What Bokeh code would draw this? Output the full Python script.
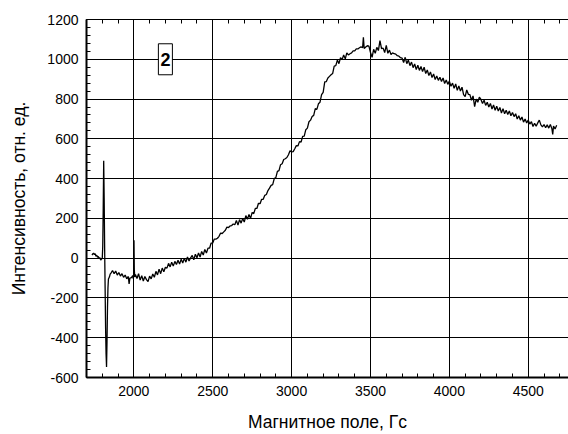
from bokeh.plotting import figure
from bokeh.models import (Range1d, SingleIntervalTicker, LinearAxis, Label,
                          PrintfTickFormatter)
from bokeh.embed import file_html
from bokeh.resources import INLINE

# ---- data (field in Gs, intensity in a.u.) ----
# baseline before the first resonance
seg_a_x = [1735, 1740, 1745, 1750, 1755, 1760, 1765, 1770, 1775, 1780, 1785, 1790, 1795, 1800]
seg_a_y = [15, 22, 25, 18, 22, 10, 15, 5, 8, -2, 2, -10, -5, 0]
# narrow derivative-shaped line near 1810 Gs
seg_b_x = [1803, 1806, 1809, 1812, 1815, 1818, 1821, 1824, 1827, 1830, 1833, 1836, 1839, 1845, 1850]
seg_b_y = [60, 250, 490, 300, 50, -150, -350, -480, -547, -420, -250, -150, -105, -95, -80]
# plateau up to the spike at 2000 Gs
seg_c_x = [1855, 1865, 1875, 1885, 1895, 1905, 1915, 1925, 1935, 1945, 1955, 1965, 1970, 1975,
           1985, 1993, 1997, 1999, 2001, 2003, 2006]
seg_c_y = [-75, -62, -78, -65, -85, -72, -90, -78, -96, -85, -104, -92, -130, -100,
           -98, -88, -104, -80, 90, -60, -95]
seg_d_x = [2010, 2020, 2030, 2040, 2050, 2060, 2070, 2080, 2090, 2100,
           2110, 2120, 2130, 2140, 2150, 2160, 2170, 2180, 2190, 2200]
seg_d_y = [-82, -102, -78, -110, -88, -115, -92, -108, -118, -90,
           -104, -80, -96, -66, -84, -55, -78, -50, -68, -46]
# slow rise
seg_e_x = [2210, 2220, 2230, 2240, 2250, 2260, 2270, 2280, 2290, 2300,
           2310, 2320, 2330, 2340, 2350, 2360, 2370, 2380, 2390, 2400,
           2410, 2420, 2430, 2440, 2450, 2460, 2470, 2480, 2490, 2500,
           2510, 2520, 2530, 2540, 2550, 2560, 2570, 2580, 2590, 2600,
           2610, 2620, 2630, 2640, 2650, 2660, 2670, 2680, 2690, 2700,
           2710, 2720, 2730, 2740, 2750, 2760, 2770, 2780, 2790, 2800,
           2810, 2820, 2830, 2840, 2850]
seg_e_y = [-50, -26, -44, -20, -40, -16, -32, -10, -30, -5,
           -24, 0, -20, 6, -14, 2, 14, -8, 20, 2,
           26, 6, 34, 16, 44, 26, 50, 50, 76, 76,
           96, 96, 100, 110, 126, 124, 132, 140, 156, 154,
           162, 164, 172, 168, 190, 166, 194, 176, 200, 182,
           214, 196, 220, 200, 230, 224, 250, 250, 276, 274,
           296, 296, 316, 320, 340]
# steep rise to the maximum
seg_f_x = [2860, 2870, 2880, 2890, 2900, 2910, 2920, 2930, 2940, 2950,
           2960, 2970, 2980, 2990, 3000, 3010, 3020, 3030, 3040, 3050,
           3060, 3070, 3080, 3090, 3100, 3110, 3120, 3130, 3140, 3150,
           3160, 3170, 3180, 3190, 3200, 3210, 3220, 3230, 3240, 3250,
           3260, 3270, 3280, 3290, 3300, 3310, 3320, 3330, 3340, 3350,
           3360, 3370, 3380, 3390, 3400, 3410, 3420, 3430, 3440, 3450,
           3455, 3460, 3470, 3480]
seg_f_y = [352, 366, 370, 400, 405, 436, 440, 470, 475, 496,
           500, 506, 520, 540, 534, 536, 550, 566, 564, 586,
           584, 612, 614, 646, 654, 686, 694, 712, 718, 752,
           748, 776, 784, 822, 834, 886, 888, 906, 914, 922,
           928, 966, 968, 996, 978, 1008, 998, 1022, 1002, 1032,
           1022, 1028, 1032, 1042, 1042, 1052, 1052, 1058, 1062, 1058,
           1110, 1054, 1062, 1068]
# decay after the maximum
seg_g_x = [3490, 3500, 3510, 3520, 3530, 3540, 3550, 3560, 3570, 3580,
           3590, 3600, 3610, 3620, 3630, 3640, 3650, 3660, 3670, 3680,
           3690, 3700, 3710, 3720, 3730, 3740, 3750, 3760, 3770, 3780,
           3790, 3800, 3810, 3820, 3830, 3840, 3850, 3860, 3870, 3880,
           3890, 3900, 3910, 3920, 3930, 3940, 3950, 3960, 3970, 3980,
           3990, 4000, 4010, 4020, 4030, 4040, 4050, 4060, 4070, 4080,
           4090, 4100, 4110, 4120]
seg_g_y = [1066, 1034, 1010, 1050, 1030, 1060, 1044, 1094, 1054, 1056,
           1034, 1070, 1030, 1046, 1024, 1032, 1028, 1026, 1018, 1016,
           1008, 1006, 984, 1010, 978, 996, 968, 986, 958, 976,
           948, 970, 944, 964, 938, 960, 928, 946, 918, 936,
           908, 926, 898, 916, 894, 910, 888, 906, 878, 896,
           874, 890, 864, 880, 854, 876, 844, 866, 840, 860,
           822, 812, 846, 824]
seg_h_x = [4130, 4140, 4150, 4160, 4170, 4180, 4190, 4200, 4210, 4220,
           4230, 4240, 4250, 4260, 4270, 4280, 4290, 4300, 4310, 4320,
           4330, 4340, 4350, 4360, 4370, 4380, 4390, 4400, 4410, 4420,
           4430, 4440, 4450, 4460, 4470, 4480, 4490, 4500, 4510, 4520,
           4530, 4540, 4550, 4560, 4570, 4580, 4590, 4600, 4610, 4620,
           4630, 4640, 4650, 4655, 4660, 4670, 4680]
seg_h_y = [822, 794, 816, 762, 800, 784, 810, 798, 778, 794,
           768, 784, 760, 778, 750, 770, 744, 764, 740, 758,
           730, 752, 726, 744, 722, 740, 716, 732, 712, 726,
           700, 716, 694, 710, 684, 700, 680, 694, 674, 686,
           662, 678, 664, 680, 694, 670, 660, 672, 656, 670,
           654, 672, 650, 622, 664, 650, 668]

field_gs = seg_a_x + seg_b_x + seg_c_x + seg_d_x + seg_e_x + seg_f_x + seg_g_x + seg_h_x
intensity = seg_a_y + seg_b_y + seg_c_y + seg_d_y + seg_e_y + seg_f_y + seg_g_y + seg_h_y

x_start, x_end = 1700, 4755
y_start, y_end = -600, 1200
x_major_step = 500
y_major_step = 200
panel_label = "2"
panel_label_x, panel_label_y = 2200, 1000
x_title = "Магнитное поле, Гс"
y_title = "Интенсивность, отн. ед."

FONT = "Liberation Sans"

p = figure(width=568, height=434, output_backend="svg", toolbar_location=None,
           x_range=Range1d(x_start, x_end), y_range=Range1d(y_start, y_end),
           min_border_left=86, min_border_right=0, min_border_top=19,
           min_border_bottom=55)
p.outline_line_color = None
p.background_fill_color = "white"
p.border_fill_color = "white"

xt = SingleIntervalTicker(interval=x_major_step, num_minor_ticks=5)
yt = SingleIntervalTicker(interval=y_major_step, num_minor_ticks=5)
p.xaxis.ticker = xt
p.yaxis.ticker = yt

p.xgrid.ticker = xt
p.ygrid.ticker = yt
for g in (p.xgrid, p.ygrid):
    g.grid_line_color = "black"
    g.grid_line_width = 1
    g.grid_line_alpha = 1.0

xa = p.xaxis[0]
ya = p.yaxis[0]
for ax in (xa, ya):
    ax.formatter = PrintfTickFormatter(format="%d")
    ax.axis_line_color = "black"
    ax.axis_line_width = 2
    ax.major_tick_line_color = "black"
    ax.minor_tick_line_color = "black"
    ax.major_tick_in = 6
    ax.major_tick_out = 0
    ax.minor_tick_in = 4
    ax.minor_tick_out = 0
    ax.major_label_text_font = FONT
    ax.major_label_text_font_size = "14px"
    ax.major_label_text_color = "black"
    ax.axis_label_text_font = FONT
    ax.axis_label_text_font_size = "17.5px"
    ax.axis_label_text_font_style = "normal"
    ax.axis_label_text_color = "black"
    ax.major_label_standoff = 8

xa.axis_label = x_title
xa.axis_label_standoff = 13
ya.axis_label = y_title
ya.axis_label_standoff = 15

top = LinearAxis(ticker=xt, major_label_text_font_size="1px",
                 major_label_text_color=None,
                 major_label_standoff=0, axis_line_color="black", axis_line_width=1,
                 major_tick_in=6, major_tick_out=0, minor_tick_in=4, minor_tick_out=0)
p.add_layout(top, "above")

p.line(field_gs, intensity, line_color="black", line_width=1.3)

lbl = Label(x=panel_label_x, y=panel_label_y, text=panel_label,
            text_font=FONT, text_font_size="18px", text_font_style="bold",
            text_align="center", text_baseline="middle", text_color="black",
            border_line_color="black", border_line_width=1,
            background_fill_color="white",
            padding=dict(left=2, right=2, top=9, bottom=9))
p.add_layout(lbl)

open("out.html", "w").write(file_html(p, INLINE))
